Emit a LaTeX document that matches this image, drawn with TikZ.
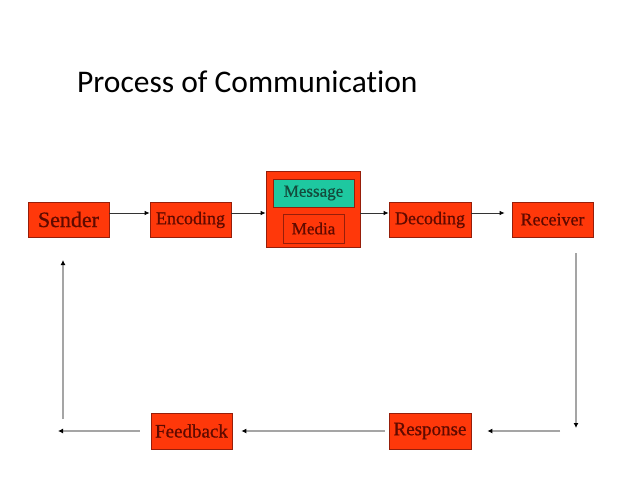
\documentclass[tikz,border=0pt]{standalone}
\usepackage{fontspec}
\setmainfont{Liberation Serif}[BoldFont={Liberation Serif}, BoldFeatures={FakeBold=0.7}]
\newfontfamily\titlefont[Ligatures=NoCommon]{Carlito}
\usetikzlibrary{arrows.meta}
\definecolor{boxred}{RGB}{255,56,10}
\definecolor{boxedge}{RGB}{150,30,10}
\definecolor{txtred}{RGB}{95,10,0}
\definecolor{teal2}{RGB}{30,200,160}
\definecolor{txtgreen}{RGB}{20,75,60}
\definecolor{lgray}{RGB}{165,165,165}
\tikzset{
  stepbox/.style={draw=boxedge, line width=0.8pt, fill=boxred, inner sep=0pt, text=txtred, align=center},
  arr/.style={draw=black!80, line width=0.8pt, -{Latex[length=5pt,width=4.5pt,black]}},
  garr/.style={draw=lgray, line width=1.4pt, -{Latex[length=5pt,width=5pt,black]}},
}
\begin{document}
\begin{tikzpicture}[x=1pt,y=-1pt]
\useasboundingbox[fill=white] (0,0) rectangle (638,479);
\node[anchor=base west, inner sep=0pt, font=\titlefont\fontsize{31.5}{36}\selectfont] (title) at (77,92) {Process of Communication};

\node[stepbox, minimum width=81pt, minimum height=35pt, font=\bfseries\fontsize{22}{24}\selectfont] (sender) at (68.5,219.5) {Sender};
\node[stepbox, minimum width=81pt, minimum height=35pt, text depth=3pt, font=\bfseries\fontsize{18}{20}\selectfont] (encoding) at (190.5,219.5) {Encoding};
\node[stepbox, minimum width=94pt, minimum height=76pt] (msgbox) at (313,209) {};
\node[draw=boxedge, line width=0.8pt, fill=teal2, text=txtgreen, inner sep=0pt, minimum width=81pt, minimum height=28pt, font=\bfseries\fontsize{17}{19}\selectfont] (message) at (313.5,193) {Message};
\node[stepbox, minimum width=61pt, minimum height=29pt, font=\bfseries\fontsize{17}{19}\selectfont] (media) at (313.5,228.5) {Media};
\node[stepbox, minimum width=82pt, minimum height=35pt, text depth=3pt, font=\bfseries\fontsize{18}{20}\selectfont] (decoding) at (430,219.5) {Decoding};
\node[stepbox, minimum width=81pt, minimum height=35pt, font=\bfseries\fontsize{18}{20}\selectfont] (receiver) at (552.5,219.5) {Receiver};
\node[stepbox, minimum width=81pt, minimum height=36pt, font=\bfseries\fontsize{19}{21}\selectfont] (feedback) at (191.5,431) {Feedback};
\node[stepbox, minimum width=82pt, minimum height=36pt, font=\bfseries\fontsize{19}{21}\selectfont] (response) at (430,431) {Response};

\draw[arr] ([yshift=6.5pt]sender.east) -- ([yshift=6.5pt]sender.east -| encoding.west);
\draw[arr] ([yshift=6.5pt]sender.east -| encoding.east) -- ([yshift=6.5pt]sender.east -| msgbox.west);
\draw[arr] ([yshift=6.5pt]receiver.west -| msgbox.east) -- ([yshift=6.5pt]receiver.west -| decoding.west);
\draw[arr, shorten >=7pt] ([yshift=6.5pt]receiver.west -| decoding.east) -- ([yshift=6.5pt]receiver.west);

\coordinate (rtop) at (576,253);
\coordinate (rbot) at (576,428);
\coordinate (rin) at (560,431);
\coordinate (lout) at (58,431);
\coordinate (lbot) at (63,419);
\coordinate (ltop) at (63,260);
\draw[garr] (rtop) -- (rbot);
\draw[garr, shorten >=16pt] (rin) -- (response.east);
\draw[garr, shorten <=4pt, shorten >=9pt] (response.west) -- (feedback.east);
\draw[garr, shorten <=11pt] (feedback.west) -- (lout);
\draw[garr] (lbot) -- (ltop);
\end{tikzpicture}
\end{document}
